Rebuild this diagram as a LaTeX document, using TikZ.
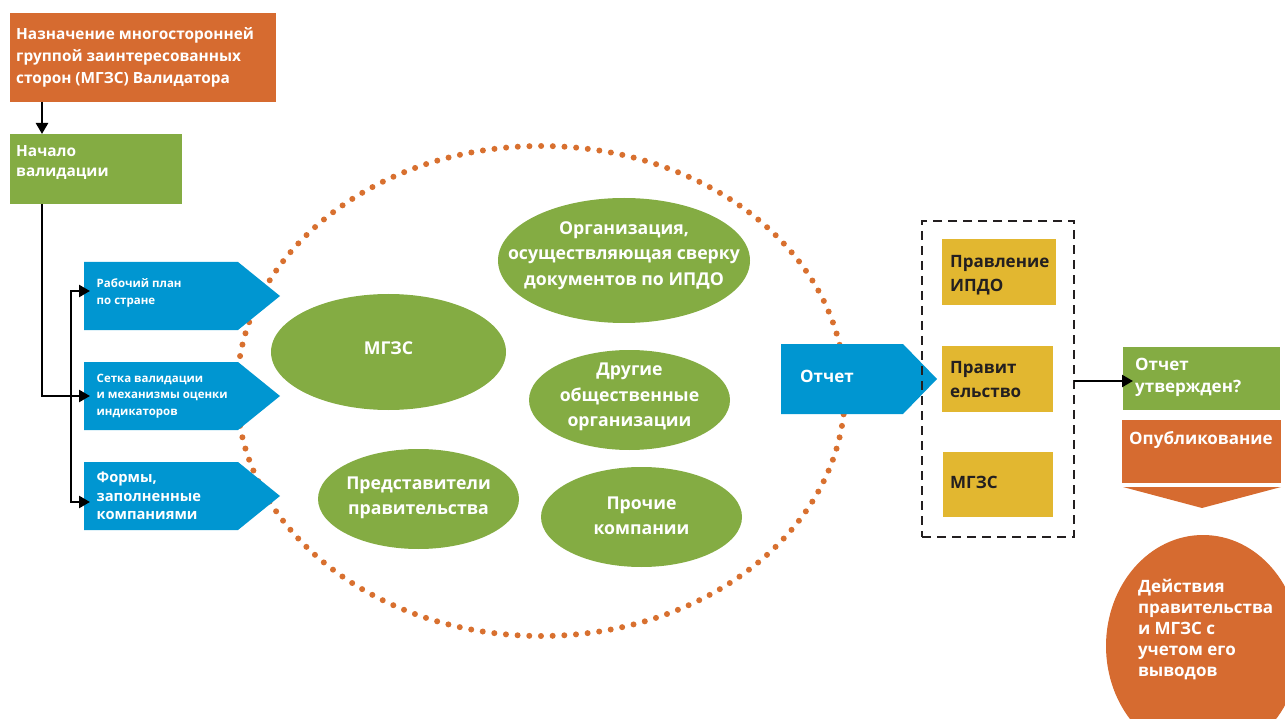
\documentclass[tikz,border=0pt]{standalone}
\usepackage{fontspec}
\setmainfont{Open Sans}
\usetikzlibrary{arrows.meta,calc,shapes.geometric}
\definecolor{orangec}{RGB}{214,107,48}
\definecolor{greenc}{RGB}{132,172,67}
\definecolor{bluec}{RGB}{0,150,209}
\definecolor{yellowc}{RGB}{226,183,48}
\definecolor{darkc}{RGB}{35,31,32}
\definecolor{dotc}{RGB}{216,112,47}
\begin{document}
\begin{tikzpicture}[x=1pt,y=-1pt,
  boxn/.style={rectangle, inner sep=0pt, outer sep=0pt},
  wtxt/.style={inner sep=0pt, anchor=west, align=left, text=white, font=\bfseries\fontsize{15.4}{22}\selectfont},
  smalltxt/.style={wtxt, font=\bfseries\fontsize{11.5}{16.5}\selectfont},
  midtxt/.style={wtxt, font=\bfseries\fontsize{14.7}{18.5}\selectfont},
  ytxt/.style={wtxt, text=darkc, font=\bfseries\fontsize{17}{24}\selectfont},
  oval/.style={ellipse, fill=greenc, inner sep=0pt},
  ovtxt/.style={inner sep=0pt, text=white, align=center, font=\bfseries\fontsize{17.7}{25.5}\selectfont},
  arr/.style={line width=2.5pt, draw=black, -{Triangle[length=11pt,width=12pt]}},
  ]
\useasboundingbox (0,0) rectangle (1285,719);
\clip (0,0) rectangle (1285,719);

% dotted ellipse
\draw[dotc, line width=6pt, line cap=round, dash pattern=on 0pt off 11.69pt] (541,391) ellipse [x radius=304, y radius=245];

% top boxes
\node[boxn, fill=orangec, minimum width=266, minimum height=89] (a) at (143,57.5) {};
\node[wtxt] (at) at ($(a.west)+(6,0)$) {Назначение многосторонней\\группой заинтересованных\\сторон (МГЗС) Валидатора};
\node[boxn, fill=greenc, minimum width=172, minimum height=70] (b) at (96,169) {};
\node[wtxt, font=\bfseries\fontsize{15.4}{20}\selectfont] (bt) at ($(b.west)+(6,-6)$) {Начало\\валидации};

% blue arrow boxes
\foreach \n/\yy in {b1/296, b2/396, b3/496}{
  \node[boxn, minimum width=154, minimum height=68] (\n) at (161,\yy) {};
  \fill[bluec] (\n.north west) -- (\n.north east) -- ($(\n.east)+(42,0)$) -- (\n.south east) -- (\n.south west) -- cycle;
}
\node[smalltxt] (b1t) at ($(b1.west)+(12.5,-3)$) {Рабочий план\\по стране};
\node[smalltxt] (b2t) at ($(b2.west)+(12.5,0)$) {Сетка валидации\\и механизмы оценки\\индикаторов};
\node[midtxt] (b3t) at ($(b3.west)+(12.5,0)$) {Формы,\\заполненные\\компаниями};

% connectors left
\draw[arr] ($(a.south west)+(32,0)$) -- ($(b.north west)+(32,0)$);
\draw[arr] ($(b.south west)+(32,0)$) |- ($(b2.west)+(6,0)$);
\draw[arr] ($(b2.west)+(-13,0)$) |- ($(b1.west)+(6,-5)$);
\draw[arr] ($(b2.west)+(-13,0)$) |- ($(b3.west)+(6,6)$);

% green ovals
\node[oval, minimum width=235, minimum height=116] (e1) at (388.5,352) {};
\node[ovtxt] (e1t) at ($(e1)+(0,-4)$) {МГЗС};
\node[oval, minimum width=252, minimum height=125] (e2) at (624,260.5) {};
\node[ovtxt] (e2t) at ($(e2)+(0,-5)$) {Организация,\\осуществляющая сверку\\документов по ИПДО};
\node[oval, minimum width=201, minimum height=100] (e3) at (629.5,400) {};
\node[ovtxt] (e3t) at ($(e3)+(0,-3)$) {Другие\\общественные\\организации};
\node[oval, minimum width=201, minimum height=100] (e4) at (418.5,499) {};
\node[ovtxt] (e4t) at ($(e4)+(0,-1)$) {Представители\\правительства};
\node[oval, minimum width=201, minimum height=100] (e5) at (641.5,517) {};
\node[ovtxt] (e5t) at ($(e5)+(0,-1)$) {Прочие\\компании};

% report arrow box
\node[boxn, minimum width=122, minimum height=70] (r) at (842,379) {};
\fill[bluec] (r.north west) -- (r.north east) -- ($(r.east)+(34,0)$) -- (r.south east) -- (r.south west) -- cycle;
\node[wtxt, font=\bfseries\fontsize{17}{22}\selectfont] (rt) at ($(r.west)+(19,-3)$) {Отчет};

% dashed group
\node[boxn, draw=darkc, line width=2pt, dash pattern=on 9pt off 6pt, minimum width=152, minimum height=316] (grp) at (998,379) {};
\node[boxn, fill=yellowc, minimum width=114, minimum height=66] (y1) at (999,272) {};
\node[ytxt] (y1t) at ($(y1.west)+(8,3)$) {Правление\\ИПДО};
\node[boxn, fill=yellowc, minimum width=111, minimum height=66] (y2) at (997.5,379) {};
\node[ytxt] (y2t) at ($(y2.west)+(8,1)$) {Правит\\ельство};
\node[boxn, fill=yellowc, minimum width=110, minimum height=65] (y3) at (998,484.5) {};
\node[ytxt] (y3t) at ($(y3.west)+(7,-2.5)$) {МГЗС};

% right column
\node[boxn, fill=greenc, minimum width=157, minimum height=63] (g2) at (1201.5,378.5) {};
\node[wtxt, font=\bfseries\fontsize{17}{22}\selectfont] (g2t) at ($(g2.west)+(12,-1.5)$) {Отчет\\утвержден?};
\draw[arr] ($(grp.east)+(0,2)$) -- ($(g2.west)+(10,2.5)$);

\node[boxn, fill=orangec, minimum width=159, minimum height=63] (pub) at (1201.5,451.5) {};
\node[wtxt, font=\bfseries\fontsize{17}{22}\selectfont] (pubt) at ($(pub.west)+(7,-11.5)$) {Опубликование};
\fill[orangec] ($(pub.south west)+(1,4)$) -- ($(pub.south east)+(0,4)$) -- ($(pub.south)+(0.5,25)$) -- cycle;

\node[ellipse, fill=orangec, inner sep=0pt, minimum width=194, minimum height=222] (act) at (1203,646) {};
\node[wtxt, font=\bfseries\fontsize{17}{21}\selectfont] (actt) at ($(act.west)+(32,-16)$) {Действия\\правительства\\и МГЗС с\\учетом его\\выводов};
\end{tikzpicture}
\end{document}
